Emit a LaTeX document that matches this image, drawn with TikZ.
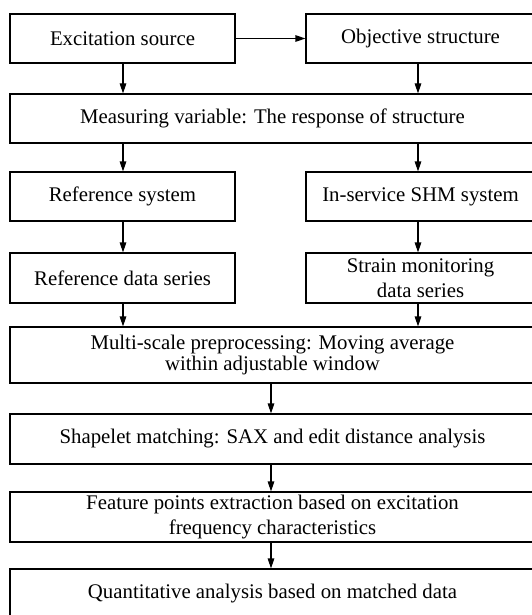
\documentclass[tikz,border=0pt]{standalone}
\usepackage{fontspec}
\setmainfont{Liberation Serif}
\usetikzlibrary{arrows.meta}
\begin{document}
\begin{tikzpicture}[x=1pt,y=-1pt,
  box/.style={rectangle,draw=black,line width=1.1pt,inner sep=0pt,align=center,
    font=\fontsize{20.8}{25}\selectfont},
  leftbox/.style={box,minimum width=225pt,minimum height=49pt},
  rightbox/.style={box,minimum width=229pt,minimum height=49pt},
  widebox/.style={box,minimum width=525pt,minimum height=49pt},
  flow/.style={-{Triangle[length=10pt,width=6.5pt]},line width=1.1pt}]
\useasboundingbox (0,0) rectangle (532,615);
\node[leftbox] (E) at (122.5,38.5) {Excitation source};
\node[rightbox] (O) at (420.5,38.5) {Objective structure};
\node[widebox] (M) at (272.5,118.5) {Measuring variable: The response of structure};
\node[leftbox] (R) at (122.5,196.5) {Reference system};
\node[rightbox] (I) at (420.5,196.5) {In-service SHM system};
\node[leftbox,minimum height=50pt] (RD) at (122.5,278) {Reference data series};
\node[rightbox,minimum height=50pt] (SD) at (420.5,278) {Strain monitoring\\data series};
\node[widebox,minimum height=56pt] (P) at (272.5,355) {Multi-scale preprocessing: Moving average\\[-4pt]within adjustable window};
\node[widebox,minimum height=50pt] (S) at (272.5,439) {Shapelet matching: SAX and edit distance analysis};
\node[widebox,minimum height=50pt] (F) at (272.5,517) {Feature points extraction based on excitation\\frequency characteristics};
\node[widebox,minimum height=50pt] (Q) at (272.5,594) {Quantitative analysis based on matched data};
\coordinate (lc) at (123,0);
\coordinate (rc) at (418,0);
\coordinate (mc) at (271,0);
\draw[flow] (E) -- (O);
\draw[flow] (E.south -| lc) -- (M.north -| lc);
\draw[flow] (O.south -| rc) -- (M.north -| rc);
\draw[flow] (M.south -| lc) -- (R.north -| lc);
\draw[flow] (M.south -| rc) -- (I.north -| rc);
\draw[flow] (R.south -| lc) -- (RD.north -| lc);
\draw[flow] (I.south -| rc) -- (SD.north -| rc);
\draw[flow] (RD.south -| lc) -- (P.north -| lc);
\draw[flow] (SD.south -| rc) -- (P.north -| rc);
\draw[flow] (P.south -| mc) -- (S.north -| mc);
\draw[flow] (S.south -| mc) -- (F.north -| mc);
\draw[flow] (F.south -| mc) -- (Q.north -| mc);
\end{tikzpicture}
\end{document}
